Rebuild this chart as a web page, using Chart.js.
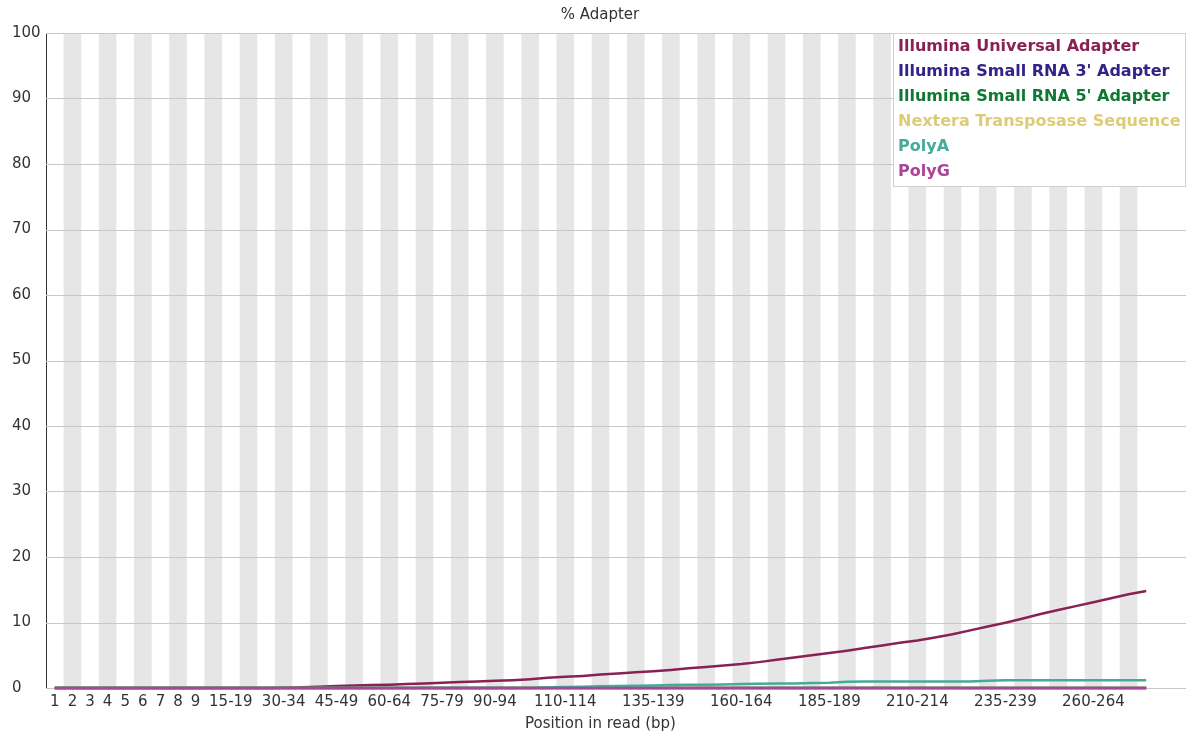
<!DOCTYPE html>
<html>
<head>
<meta charset="utf-8">
<script src="https://cdn.jsdelivr.net/npm/chart.js@4/dist/chart.umd.min.js"></script>
<style>
html,body{margin:0;padding:0;background:#fff;}
#wrap{width:1190px;height:738px;position:relative;}
</style>
</head>
<body>
<div id="wrap"><canvas id="c" width="1190" height="738"></canvas></div>
<script>
const chartTitle = '% Adapter';
const xAxisTitle = 'Position in read (bp)';

const categories = ['1','2','3','4','5','6','7','8','9',
  '10-14','15-19','20-24','25-29','30-34','35-39','40-44','45-49','50-54','55-59',
  '60-64','65-69','70-74','75-79','80-84','85-89','90-94','95-99','100-104','105-109',
  '110-114','115-119','120-124','125-129','130-134','135-139','140-144','145-149','150-154','155-159',
  '160-164','165-169','170-174','175-179','180-184','185-189','190-194','195-199','200-204','205-209',
  '210-214','215-219','220-224','225-229','230-234','235-239','240-244','245-249','250-254','255-259',
  '260-264','265-269','270-274','275-279'];

const shownTickLabels = ['1','2','3','4','5','6','7','8','9','15-19','30-34','45-49','60-64','75-79',
  '90-94','110-114','135-139','160-164','185-189','210-214','235-239','260-264'];

const yTicks = [0,10,20,30,40,50,60,70,80,90,100];

const seriesNames = ['Illumina Universal Adapter','Illumina Small RNA 3\' Adapter','Illumina Small RNA 5\' Adapter',
  'Nextera Transposase Sequence','PolyA','PolyG'];
const seriesColors = ['#882255','#332288','#117733','#DDCC77','#44AA99','#AA4499'];

const illuminaUniversal = [0,0,0,0,0,0,0,0,0,0,
  0,0,0,0.05,0.1,0.2,0.3,0.4,0.45,0.5,
  0.6,0.7,0.8,0.9,1.0,1.1,1.2,1.35,1.55,1.7,
  1.85,2.05,2.2,2.4,2.55,2.75,3.0,3.2,3.45,3.65,
  3.95,4.3,4.65,5.0,5.35,5.7,6.1,6.5,6.9,7.25,
  7.7,8.2,8.8,9.4,9.95,10.6,11.3,11.9,12.5,13.1,
  13.7,14.3,14.8];
const smallRna3 = [0,0,0,0,0,0,0,0,0,0,0,0,0,0,0,0,0,0,0,0,0,0,0,0,0,0,0,0,0,0,0,0,0,0,0,0,0,0,0,0,0,0,0,0,0,0,0,0,0,0,0,0,0,0,0,0,0,0,0,0,0,0,0];
const smallRna5 = [0,0,0,0,0,0,0,0,0,0,0,0,0,0,0,0,0,0,0,0,0,0,0,0,0,0,0,0,0,0,0,0,0,0,0,0,0,0,0,0,0,0,0,0,0,0,0,0,0,0,0,0,0,0,0,0,0,0,0,0,0,0,0];
const nextera = [0,0,0,0,0,0,0,0,0,0,0,0,0,0,0,0,0,0,0,0,0,0,0,0,0,0,0,0,0,0,0,0,0,0,0,0,0,0,0,0,0,0,0,0,0,0,0,0,0,0,0,0,0,0,0,0,0,0,0,0,0,0,0];
const polyA = [0,0,0,0,0,0,0,0,0,0,
  0,0,0,0,0,0,0,0,0,0,
  0,0,0,0,0,0,0,0,0.1,0.15,
  0.2,0.25,0.3,0.35,0.4,0.45,0.5,0.5,0.55,0.6,
  0.65,0.7,0.7,0.75,0.8,0.95,1.0,1.0,1.0,1.0,
  1.0,1.0,1.0,1.1,1.2,1.2,1.2,1.2,1.2,1.2,
  1.2,1.2,1.2];
const polyG = [0,0,0,0,0,0,0,0,0,0,0,0,0,0,0,0,0,0,0,0,0,0,0,0,0,0,0,0,0,0,0,0,0,0,0,0,0,0,0,0,0,0,0,0,0,0,0,0,0,0,0,0,0,0,0,0,0,0,0,0,0,0,0];

const seriesData = [illuminaUniversal, smallRna3, smallRna5, nextera, polyA, polyG];

const FONT = 'DejaVu Sans';
const GRID_EXTEND_RIGHT = 1186;

const bgPlugin = {
  id: 'bgStripes',
  beforeDraw(chart) {
    const ctx = chart.ctx, a = chart.chartArea, x = chart.scales.x;
    ctx.save();
    ctx.fillStyle = '#fff';
    ctx.fillRect(0, 0, chart.width, chart.height);
    const w = (a.right - a.left) / categories.length;
    ctx.fillStyle = '#e6e6e6';
    for (let i = 1; i < categories.length; i += 2) {
      const cx = x.getPixelForValue(i);
      ctx.fillRect(cx - w / 2, a.top, w, a.bottom - a.top);
    }
    ctx.restore();
  },
  beforeDatasetsDraw(chart) {
    const ctx = chart.ctx, a = chart.chartArea, y = chart.scales.y;
    ctx.save();
    ctx.strokeStyle = '#c8c8c8';
    ctx.lineWidth = 1;
    yTicks.forEach(v => {
      const py = Math.round(y.getPixelForValue(v)) + 0.5;
      ctx.beginPath();
      ctx.moveTo(a.left, py);
      ctx.lineTo(GRID_EXTEND_RIGHT, py);
      ctx.stroke();
    });
    ctx.restore();
  },
  afterDraw(chart) {
    const ctx = chart.ctx;
    ctx.save();
    ctx.fillStyle = '#333';
    ctx.font = '15px "' + FONT + '"';
    ctx.textAlign = 'center';
    ctx.textBaseline = 'middle';
    ctx.fillText(chartTitle, 600, 15);
    const bx = 893, by = 33, bw = GRID_EXTEND_RIGHT - bx, bh = 154;
    ctx.fillStyle = '#fff';
    ctx.fillRect(bx, by, bw, bh);
    ctx.strokeStyle = '#d0d0d0';
    ctx.lineWidth = 1;
    ctx.strokeRect(bx + 0.5, by + 0.5, bw - 1, bh - 1);
    ctx.font = 'bold 16px "' + FONT + '"';
    ctx.textAlign = 'left';
    chart.data.datasets.forEach((ds, i) => {
      ctx.fillStyle = ds.borderColor;
      ctx.fillText(ds.label, bx + 5, by + 14 + i * 25);
    });
    ctx.restore();
  }
};

new Chart(document.getElementById('c'), {
  type: 'line',
  data: {
    labels: categories,
    datasets: seriesNames.map((n, i) => ({
      label: n,
      data: seriesData[i],
      borderColor: seriesColors[i],
      backgroundColor: seriesColors[i],
      borderWidth: 2.5,
      pointRadius: 0,
      tension: 0,
      fill: false,
      clip: false,
      order: seriesNames.length - i
    }))
  },
  options: {
    responsive: false,
    animation: false,
    events: [],
    layout: { padding: { left: 12, right: 35, top: 33, bottom: 0 } },
    plugins: { legend: { display: false }, title: { display: false }, tooltip: { enabled: false } },
    scales: {
      x: {
        type: 'category',
        offset: true,
        grid: { display: false, drawTicks: false },
        border: { display: false },
        ticks: {
          autoSkip: false,
          maxRotation: 0,
          minRotation: 0,
          padding: 5,
          color: '#333',
          font: { family: FONT, size: 15 },
          callback: function(v, i) {
            const l = categories[i];
            return shownTickLabels.includes(l) ? l : '';
          }
        },
        title: {
          display: true,
          text: xAxisTitle,
          color: '#333',
          font: { family: FONT, size: 15 },
          padding: { top: 4, bottom: 5 }
        },
        afterFit(s) { s.height = 50; }
      },
      y: {
        min: 0, max: 100,
        grid: { display: false, drawTicks: false },
        border: { display: true, color: '#333', width: 1 },
        ticks: {
          stepSize: 10,
          crossAlign: 'far',
          color: '#333',
          font: { family: FONT, size: 15 }
        },
        afterFit(s) { s.width = 34; }
      }
    }
  },
  plugins: [bgPlugin]
});
</script>
</body>
</html>
